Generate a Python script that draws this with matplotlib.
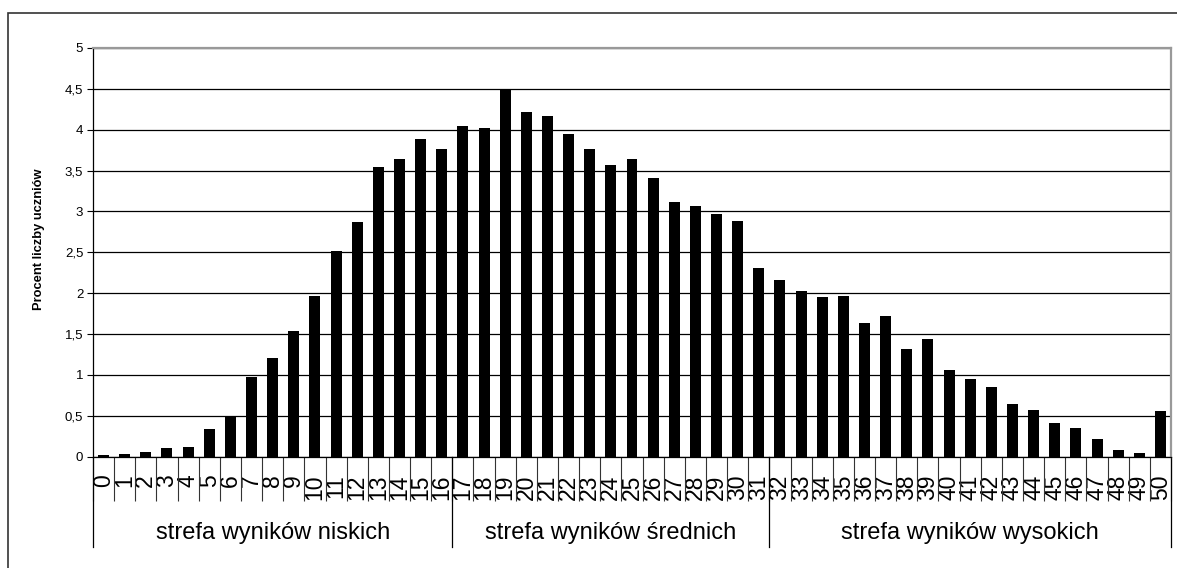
import matplotlib.pyplot as plt
from matplotlib.patches import Rectangle

plt.rcParams['font.family'] = ['Liberation Sans', 'DejaVu Sans']

# Data
scores = list(range(51))
percent = [0.02, 0.03, 0.06, 0.11, 0.12, 0.34, 0.49, 0.97, 1.20, 1.53,
           1.97, 2.51, 2.87, 3.54, 3.64, 3.89, 3.76, 4.04, 4.02, 4.50,
           4.22, 4.17, 3.95, 3.76, 3.57, 3.64, 3.41, 3.11, 3.07, 2.97,
           2.88, 2.31, 2.16, 2.03, 1.95, 1.97, 1.64, 1.72, 1.32, 1.44,
           1.06, 0.95, 0.85, 0.64, 0.57, 0.41, 0.35, 0.22, 0.08, 0.04, 0.56]
zone_names = ['strefa wyników niskich', 'strefa wyników średnich', 'strefa wyników wysokich']
zone_first = [0, 17, 32]
zone_last = [16, 31, 50]
y_ticks = [0, 0.5, 1, 1.5, 2, 2.5, 3, 3.5, 4, 4.5, 5]
y_tick_labels = ['0', '0,5', '1', '1,5', '2', '2,5', '3', '3,5', '4', '4,5', '5']

W, H = 1177, 568
fig = plt.figure(figsize=(W / 100, H / 100), dpi=100)

# outer chart border (cut off at right and bottom like the reference)
fig.patches.append(Rectangle((8 / W, -0.1), 1.2, 1 - 13 / H + 0.1, transform=fig.transFigure,
                             fill=False, edgecolor='#333333', linewidth=1.2))

left, right, top, bottom = 93, 1171, 48, 456.5
ax = fig.add_axes([left / W, 1 - bottom / H, (right - left) / W, (bottom - top) / H])

ax.bar(scores, percent, width=0.52, color='black', zorder=3)

ax.set_xlim(-0.5, 50.5)
ax.set_ylim(0, 5)
ax.set_yticks(y_ticks)
ax.set_yticklabels(y_tick_labels, fontsize=9.5)
ax.yaxis.grid(True, color='black', linewidth=0.9)
ax.set_axisbelow(True)
ax.tick_params(axis='y', direction='out', length=4, width=0.8, pad=3)

ax.set_xticks(scores)
ax.set_xticklabels([str(s) for s in scores], rotation=90, fontsize=16.5)
ax.tick_params(axis='x', which='major', length=0, pad=13)
ax.set_xticks([s - 0.5 for s in scores] + [50.5], minor=True)
ax.tick_params(axis='x', which='minor', direction='out', length=32, width=0.8, color='#333333')

for side in ['top', 'right']:
    ax.spines[side].set_color('#999999')
    ax.spines[side].set_linewidth(1.6)
ax.spines['left'].set_linewidth(0.9)
ax.spines['bottom'].set_linewidth(0.9)

ax.set_ylabel('Procent liczby uczniów', fontsize=9.3, fontweight='bold')
ax.yaxis.set_label_coords(-(93 - 45) / (right - left), 0.532)

# zone separators and zone labels below the axis
axis_h = bottom - top
y_low = -(547 - bottom) / axis_h
xt = ax.get_xaxis_transform()
for b in [-0.5, 16.5, 31.5, 50.5]:
    ax.plot([b, b], [0, y_low], transform=xt, color='black', linewidth=0.9, clip_on=False)
for name, a, b in zip(zone_names, zone_first, zone_last):
    ax.text((a + b) / 2, -(533 - bottom) / axis_h, name, transform=xt,
            ha='center', va='center', fontsize=17)

plt.savefig('out.png', dpi=100)
